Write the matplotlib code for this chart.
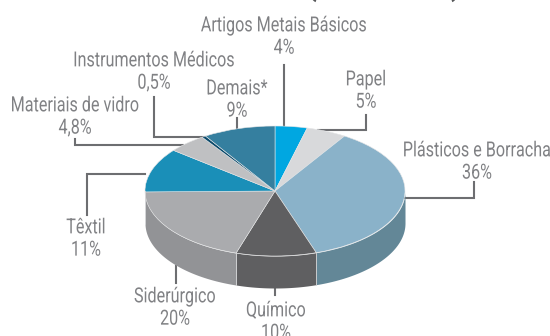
import numpy as np
import matplotlib
matplotlib.use('Agg')
import matplotlib.pyplot as plt
import matplotlib.patheffects as pe
from matplotlib.transforms import Affine2D

W, H = 550, 336

# share of each sector, clockwise from the top of the pie
sectors = ["Artigos Metais Básicos", "Papel", "Plásticos e Borracha", "Químico",
           "Siderúrgico", "Têxtil", "Materiais de vidro", "Instrumentos Médicos", "Demais*"]
shares = [4, 5, 36, 10, 20, 11, 4.8, 0.5, 9]
share_labels = ["4%", "5%", "36%", "10%", "20%", "11%", "4,8%", "0,5%", "9%"]
top_colors = ["#00a7e1", "#d8d9db", "#8ab2c9", "#5f5f61", "#aaabae", "#1a8fb8", "#bfc0c2", "#0b4a6b", "#357f9f"]
side_colors = ["#00a7e1", "#d8d9db", "#638797", "#5f5f61", "#929396", "#1a8fb8", "#bfc0c2", "#0b4a6b", "#357f9f"]

# centre of each two-line label, in pixels
label_pos = [(284, 37), (366, 91), (477, 162), (276, 322), (175, 308), (86, 239), (75, 117), (154, 72), (237, 100)]

# leader lines in pixels
leaders = [
    [(284, 65), (284, 128)],
    [(366, 115), (366, 130), (318, 130)],
    [(405, 198), (474, 198), (474, 182)],
    [(275, 288), (275, 295)],
    [(176, 266), (176, 283)],
    [(145, 174), (87, 174), (87, 215)],
    [(183, 145), (75, 145), (75, 139)],
    [(205, 137), (154, 137), (154, 97)],
    [(237, 130), (237, 118)],
]

CX, CY, RX, RY, DEPTH = 275, 191, 130, 65, 32


class Narrow(pe.AbstractPathEffect):
    # squeezes glyphs sideways around a fixed x, since no condensed face is installed
    def __init__(self, x, sx):
        super().__init__()
        self.x, self.sx = x, sx

    def draw_path(self, renderer, gc, tpath, affine, rgbFace=None):
        squeeze = Affine2D().translate(-self.x, 0).scale(self.sx, 1).translate(self.x, 0)
        renderer.draw_path(gc, tpath, affine + squeeze, rgbFace)


plt.rcParams['font.family'] = ['Roboto', 'DejaVu Sans']
fig = plt.figure(figsize=(W / 100, H / 100), dpi=100)

# overlay in pixel coordinates for text and leaders
ax_px = fig.add_axes([0, 0, 1, 1])
ax_px.set_xlim(0, W)
ax_px.set_ylim(H, 0)
ax_px.axis('off')

for line in leaders:
    xs, ys = zip(*line)
    ax_px.plot(xs, ys, color="#6d6e71", lw=1.5, solid_joinstyle='miter', zorder=1)

for name, val, (x, y) in zip(sectors, share_labels, label_pos):
    ax_px.text(x, y, name + "\n" + val, ha='center', va='center', fontsize=15, color="#808184",
               linespacing=1.22, clip_on=False, path_effects=[Narrow(x, 0.775)])

# the heading above the chart runs off the top edge, only its brackets reach into view
for ch, x in zip("()", (311, 455)):
    ax_px.text(x, -4, ch, ha='center', va='baseline', fontsize=20, fontweight='bold', color="#58595b")

# pie axes: the unit circle is stretched into the tilted ellipse
ax = fig.add_axes([(CX - RX) / W, 1 - (CY + RY) / H, 2 * RX / W, 2 * RY / H])
ax.patch.set_alpha(0)
depth = DEPTH / RY
total = sum(shares)
edges = 90 - np.cumsum([0] + shares) / total * 360

# outer wall, only the part facing the viewer
for a1, a0, col in zip(edges[:-1], edges[1:], side_colors):
    lo, hi = max(a0, -180), min(a1, 0)
    if lo >= hi:
        continue
    t = np.radians(np.linspace(lo, hi, 60))
    ax.fill_between(np.cos(t), np.sin(t), np.sin(t) - depth, color=col, lw=0, clip_on=False)
    ax.plot(np.cos(t[[0, 0]]), [np.sin(t[0]), np.sin(t[0]) - depth], color="#d5d6d8", lw=0.6, clip_on=False)

ax.pie(shares, colors=top_colors, startangle=90, counterclock=False, radius=1,
       wedgeprops=dict(linewidth=0.4, edgecolor="#e4e5e6", clip_on=False))
ax.set_aspect('auto')
ax.set_xlim(-1, 1)
ax.set_ylim(-1, 1)
ax.axis('off')

fig.savefig('out.png', dpi=100)
